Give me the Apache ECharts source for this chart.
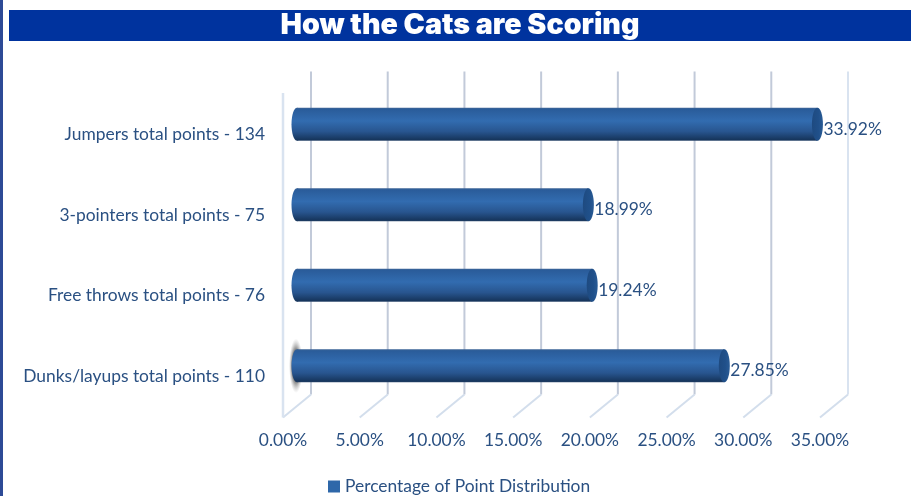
<!DOCTYPE html>
<html><head><meta charset="utf-8">
<style>html,body{margin:0;padding:0;background:#fff}#c{width:911px;height:496px}</style>
<script src="https://cdn.jsdelivr.net/npm/echarts@6/dist/echarts.min.js"></script>
</head><body><div id="c"></div>
<script>
const chartTitle = 'How the Cats are Scoring';
const seriesName = 'Percentage of Point Distribution';
const categories = ['Dunks/layups total points - 110','Free throws total points - 76','3-pointers total points - 75','Jumpers total points - 134'];
const values = [27.85,19.24,18.99,33.92];
const ticks = [0,5,10,15,20,25,30,35];
const shadowedCategory = [0];

const font = 'Lato';
const fs = 17.4;
const textColor = '#2a5082';
const barGrad = {type:'linear',x:0,y:0,x2:0,y2:1,colorStops:[
  {offset:0,color:'#3e6596'},{offset:0.05,color:'#2a5c9a'},{offset:0.4,color:'#326cb0'},{offset:0.72,color:'#28558f'},{offset:0.97,color:'#16355c'},{offset:1,color:'#2f4a6e'}]};
const capGrad = {type:'linear',x:0,y:0,x2:1,y2:0,colorStops:[
  {offset:0,color:'#1e4a80'},{offset:0.6,color:'#20508a'},{offset:1,color:'#2a5c96'}]};
const shadowGrad = {type:'radial',x:0.5,y:0.5,r:0.5,colorStops:[
  {offset:0,color:'rgba(70,70,70,0.95)'},{offset:0.55,color:'rgba(90,90,90,0.85)'},{offset:1,color:'rgba(170,170,170,0)'}]};
const DX = 14, DY = 11.5, CAP = 5.5;

const chart = echarts.init(document.getElementById('c'), null, {renderer:'canvas'});
chart.setOption({
  animation:false,
  backgroundColor:'#fff',
  graphic:[
    {type:'rect',z:-10,shape:{x:0,y:0,width:3,height:496},style:{fill:'#2d4a96'}},
    {type:'rect',z:-10,shape:{x:9,y:10,width:902,height:31},style:{fill:'#00339e'}}
  ],
  title:{text:chartTitle,left:460,top:9,textAlign:'center',padding:0,z:10,
    textStyle:{color:'#fff',fontFamily:'Inter',fontWeight:900,fontSize:28.6,lineHeight:32}},
  legend:{data:[{name:seriesName,icon:'rect',itemStyle:{color:'#2e67a9'}}],top:473,left:323,
    itemWidth:12,itemHeight:12,itemGap:4,
    textStyle:{color:textColor,fontFamily:font,fontSize:fs}},
  grid:{left:297,top:84,width:537,height:322,containLabel:false},
  xAxis:{type:'value',min:0,max:35,interval:5,
    axisLine:{show:false},axisTick:{show:false},splitLine:{show:false},
    axisLabel:{margin:26,color:textColor,fontFamily:font,fontSize:fs,padding:[0,DX*2,0,0],hideOverlap:false,
      formatter:v=>v.toFixed(2)+'%'}},
  yAxis:{type:'category',data:categories,
    axisLine:{show:false},axisTick:{show:false},splitLine:{show:false},
    axisLabel:{margin:32,color:textColor,fontFamily:font,fontSize:fs,verticalAlign:'top',lineHeight:21,interval:0}},
  series:[
    {type:'custom',name:'walls',silent:true,z:1,clip:false,coordinateSystem:'cartesian2d',
      data:ticks.map(t=>[t,0]),encode:{x:0,y:1},
      renderItem(params,api){
        const x=api.coord([api.value(0),0])[0], cs=params.coordSys;
        const top=cs.y, bottom=cs.y+cs.height, v=api.value(0);
        const light = v===ticks[ticks.length-1];
        const col = light?'#d9e3f0':'#c2cad9';
        const floor='#d3deec';
        const kids=[
          {type:'line',shape:{x1:x+DX,y1:top-DY-1,x2:x+DX,y2:bottom-DY},style:{stroke:col,lineWidth:2}},
          {type:'line',shape:{x1:x-DX,y1:bottom+DY,x2:x+DX,y2:bottom-DY},style:{stroke:floor,lineWidth:2}}
        ];
        if(v===0) kids.push({type:'line',shape:{x1:x-DX,y1:top+9,x2:x-DX,y2:bottom+DY},style:{stroke:'#d9e3f0',lineWidth:2.5}});
        return {type:'group',children:kids};
      }},
    {type:'custom',name:'shadow',silent:true,z:2,clip:false,
      data:shadowedCategory.map(i=>[0,i]),encode:{x:0,y:1},
      renderItem(params,api){
        const p=api.coord([api.value(0),api.value(1)]);
        return {type:'circle',x:p[0]-1,y:p[1],scaleY:3.9,shape:{cx:0,cy:0,r:7},style:{fill:shadowGrad}};
      }},
    {type:'bar',name:seriesName,data:values,barWidth:33,z:3,
      itemStyle:{color:barGrad},
      label:{show:true,position:'right',distance:6,offset:[0,5],color:textColor,fontFamily:font,fontSize:fs,
        formatter:p=>p.value.toFixed(2)+'%'}},
    {type:'custom',name:'caps',silent:true,z:4,clip:false,
      data:values.map((v,i)=>[v,i]),encode:{x:0,y:1},
      renderItem(params,api){
        const end=api.coord([api.value(0),api.value(1)]);
        const start=api.coord([0,api.value(1)]);
        const r=33/2;
        return {type:'group',children:[
          {type:'ellipse',shape:{cx:start[0],cy:start[1],rx:CAP,ry:r},style:{fill:barGrad}},
          {type:'ellipse',shape:{cx:end[0],cy:end[1],rx:CAP,ry:r},style:{fill:capGrad}}
        ]};
      }}
  ]
});
</script></body></html>
